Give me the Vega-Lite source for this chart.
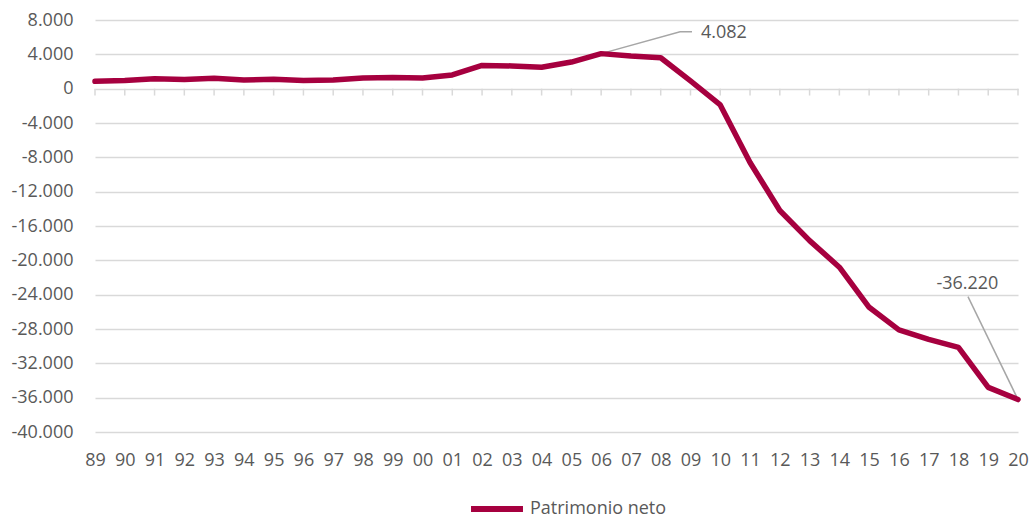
{
  "$schema": "https://vega.github.io/schema/vega-lite/v6.json",
  "width": 923,
  "height": 412,
  "autosize": "none",
  "padding": {"left": 95, "top": 20, "right": 12, "bottom": 86},
  "config": {
    "locale": {"number": {"decimal": ",", "thousands": ".", "grouping": [3], "currency": ["", " €"], "minus": "-"}},
    "view": {"stroke": null},
    "font": "Open Sans"
  },
  "datasets": {
    "series": [
      {"year": 1989, "value": 850, "series": "Patrimonio neto"},
      {"year": 1990, "value": 950, "series": "Patrimonio neto"},
      {"year": 1991, "value": 1150, "series": "Patrimonio neto"},
      {"year": 1992, "value": 1080, "series": "Patrimonio neto"},
      {"year": 1993, "value": 1200, "series": "Patrimonio neto"},
      {"year": 1994, "value": 1000, "series": "Patrimonio neto"},
      {"year": 1995, "value": 1100, "series": "Patrimonio neto"},
      {"year": 1996, "value": 950, "series": "Patrimonio neto"},
      {"year": 1997, "value": 1000, "series": "Patrimonio neto"},
      {"year": 1998, "value": 1250, "series": "Patrimonio neto"},
      {"year": 1999, "value": 1300, "series": "Patrimonio neto"},
      {"year": 2000, "value": 1250, "series": "Patrimonio neto"},
      {"year": 2001, "value": 1600, "series": "Patrimonio neto"},
      {"year": 2002, "value": 2700, "series": "Patrimonio neto"},
      {"year": 2003, "value": 2650, "series": "Patrimonio neto"},
      {"year": 2004, "value": 2500, "series": "Patrimonio neto"},
      {"year": 2005, "value": 3100, "series": "Patrimonio neto"},
      {"year": 2006, "value": 4082, "series": "Patrimonio neto"},
      {"year": 2007, "value": 3800, "series": "Patrimonio neto"},
      {"year": 2008, "value": 3600, "series": "Patrimonio neto"},
      {"year": 2009, "value": 900, "series": "Patrimonio neto"},
      {"year": 2010, "value": -1900, "series": "Patrimonio neto"},
      {"year": 2011, "value": -8600, "series": "Patrimonio neto"},
      {"year": 2012, "value": -14200, "series": "Patrimonio neto"},
      {"year": 2013, "value": -17700, "series": "Patrimonio neto"},
      {"year": 2014, "value": -20800, "series": "Patrimonio neto"},
      {"year": 2015, "value": -25470, "series": "Patrimonio neto"},
      {"year": 2016, "value": -28100, "series": "Patrimonio neto"},
      {"year": 2017, "value": -29200, "series": "Patrimonio neto"},
      {"year": 2018, "value": -30140, "series": "Patrimonio neto"},
      {"year": 2019, "value": -34800, "series": "Patrimonio neto"},
      {"year": 2020, "value": -36220, "series": "Patrimonio neto"}
    ],
    "leaders": [
      {"note": "a", "year": 2006, "value": 4082},
      {"note": "a", "year": 2008.65, "value": 6640},
      {"note": "a", "year": 2009.05, "value": 6640},
      {"note": "b", "year": 2018.32, "value": -24230},
      {"note": "b", "year": 2020, "value": -36220}
    ],
    "noteA": [{"label": "4.082", "year": 2009.35, "value": 6520}],
    "noteB": [{"label": "-36.220", "year": 2018.3, "value": -22700}]
  },
  "encoding": {
    "x": {
      "field": "year", "type": "quantitative",
      "scale": {"domain": [1989, 2020], "nice": false, "zero": false},
      "axis": {
        "values": [1989,1990,1991,1992,1993,1994,1995,1996,1997,1998,1999,2000,2001,2002,2003,2004,2005,2006,2007,2008,2009,2010,2011,2012,2013,2014,2015,2016,2017,2018,2019,2020],
        "labelExpr": "slice(''+datum.value, 2)",
        "grid": false, "domain": false, "ticks": false, "title": null,
        "labelFontSize": 18, "labelColor": "#595959", "labelPadding": 19,
        "labelOverlap": false, "labelFlush": false, "labelFont": "Open Sans"
      }
    },
    "y": {
      "field": "value", "type": "quantitative",
      "scale": {"domain": [-40000, 8000], "nice": false, "zero": false},
      "axis": {
        "values": [8000,4000,0,-4000,-8000,-12000,-16000,-20000,-24000,-28000,-32000,-36000,-40000],
        "format": ",d",
        "grid": true, "gridColor": "#D9D9D9", "gridWidth": 1.5,
        "domain": false, "ticks": false, "title": null,
        "labelFontSize": 18, "labelColor": "#595959", "labelPadding": 22, "labelFont": "Open Sans"
      }
    }
  },
  "layer": [
    {
      "data": {"name": "series"},
      "mark": {"type": "rule", "color": "#D9D9D9", "strokeWidth": 1.5},
      "encoding": {
        "y": {"datum": 0},
        "y2": {"datum": -800}
      }
    },
    {
      "data": {"name": "leaders"},
      "mark": {"type": "line", "color": "#A6A6A6", "strokeWidth": 1.5},
      "encoding": {"detail": {"field": "note"}}
    },
    {
      "data": {"name": "series"},
      "mark": {"type": "line", "strokeWidth": 5.5, "strokeJoin": "round", "strokeCap": "round"},
      "encoding": {
        "color": {
          "field": "series", "type": "nominal",
          "scale": {"range": ["#A6003F"]},
          "legend": {
            "orient": "none", "legendX": 373, "legendY": 460, "title": null,
            "symbolType": "stroke", "symbolStrokeWidth": 6, "symbolSize": 2700,
            "labelFontSize": 18, "labelColor": "#595959", "labelFont": "Open Sans", "labelOffset": 4
          }
        }
      }
    },
    {
      "data": {"name": "noteA"},
      "mark": {"type": "text", "align": "left", "baseline": "middle", "fontSize": 18, "color": "#595959", "font": "Open Sans"},
      "encoding": {"text": {"field": "label"}}
    },
    {
      "data": {"name": "noteB"},
      "mark": {"type": "text", "align": "center", "baseline": "middle", "fontSize": 18, "color": "#595959", "font": "Open Sans"},
      "encoding": {"text": {"field": "label"}}
    }
  ]
}
